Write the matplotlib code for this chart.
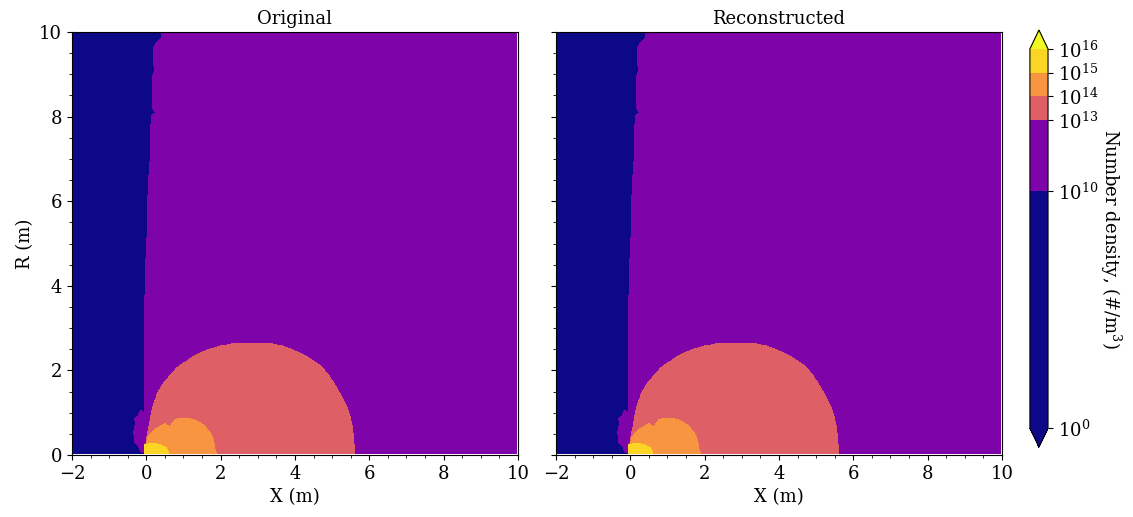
import numpy as np
import matplotlib
matplotlib.use("Agg")
import matplotlib.pyplot as plt
from matplotlib.colors import LogNorm
from matplotlib.path import Path
from matplotlib.ticker import AutoMinorLocator

plt.rcParams['font.family'] = 'serif'
plt.rcParams['font.serif'] = ['DejaVu Serif']
plt.rcParams['mathtext.fontset'] = 'dejavuserif'
plt.rcParams['font.size'] = 13

# contour levels (number density, #/m^3) and the value held inside each region
levels = [1e0, 1e10, 1e13, 1e14, 1e15, 1e16]
vacuum_val = 1e5
plume_val = 10**11.5
shell_val = 10**13.5
core_val = 10**14.5
hot_val = 10**15.5

# region outlines, (x, r) in metres
# blue / purple interface, bottom to top
iface_x = [-0.06, -0.06, -0.05, -0.04, 0.0, 0.01, 0.03, 0.05, 0.08, 0.1, 0.13,
           0.12, 0.15, 0.26, 0.17, 0.19, 0.23, 0.19, 0.2, 0.28, 0.41, 0.45]
iface_r = [-0.1, 0.0, 2.3, 3.47, 4.66, 4.9, 5.37, 6.15, 6.62, 6.95, 7.41,
           7.73, 8.02, 8.1, 8.2, 8.98, 9.1, 9.31, 9.62, 9.74, 9.86, 10.1]

# purple blob inside the blue near the axis
blob_x = [-0.04, -0.12, -0.2, -0.3, -0.34, -0.28, -0.31, -0.22, -0.15, -0.08, -0.04]
blob_r = [0.05, 0.05, 0.2, 0.3, 0.55, 0.72, 0.86, 0.92, 1.05, 1.0, 0.9]

# 1e13-1e14 shell
shell_x = [-0.04, 0.0, 0.05, 0.12, 0.18, 0.3, 0.45, 0.64, 0.85, 1.09, 1.35, 1.62,
           1.98, 2.3, 2.6, 2.9, 3.14, 3.4, 3.68, 3.95, 4.2, 4.45, 4.67, 4.85,
           5.03, 5.18, 5.3, 5.42, 5.5, 5.55, 5.58, 5.61, 5.6, -0.04]
shell_r = [0.0, 0.35, 0.55, 0.9, 1.14, 1.45, 1.68, 1.88, 2.08, 2.22, 2.37, 2.47,
           2.57, 2.62, 2.64, 2.65, 2.65, 2.62, 2.57, 2.48, 2.38, 2.25, 2.12, 1.95,
           1.72, 1.5, 1.3, 1.08, 0.85, 0.6, 0.35, 0.08, -0.1, -0.1]

# 1e14-1e15 core
core_x = [-0.04, 0.05, 0.2, 0.37, 0.5, 0.64, 0.77, 0.92, 1.09, 1.25, 1.4, 1.55,
          1.66, 1.75, 1.8, 1.87, 1.87, -0.04]
core_r = [0.1, 0.43, 0.58, 0.67, 0.74, 0.67, 0.83, 0.87, 0.87, 0.84, 0.79, 0.7,
          0.59, 0.47, 0.35, 0.05, -0.1, -0.1]

# 1e15-1e16 hot spot
hot_x = [-0.04, 0.18, 0.37, 0.55, 0.6, 0.6, -0.04]
hot_r = [0.24, 0.28, 0.24, 0.16, 0.05, -0.1, -0.1]

titles = ["Original", "Reconstructed"]

# grid (cell centres, a touch inside the axis limits)
x = np.linspace(-1.97, 9.97, 1195)
r = np.linspace(0.03, 9.97, 995)
X, R = np.meshgrid(x, r)
pts = np.column_stack([X.ravel(), R.ravel()])


def inside(px, pr):
    return Path(np.column_stack([px, pr])).contains_points(pts).reshape(X.shape)


blue_x = [-2.1] + iface_x + [-2.1]
blue_r = [-0.1] + iface_r + [10.1]

Z = np.full(X.shape, plume_val)
Z[inside(blue_x, blue_r)] = vacuum_val
Z[inside(blob_x, blob_r)] = plume_val
Z[inside(shell_x, shell_r)] = shell_val
Z[inside(core_x, core_r)] = core_val
Z[inside(hot_x, hot_r)] = hot_val

fig = plt.figure(figsize=(11.33, 5.17), dpi=100)
ax1 = fig.add_axes([0.0635, 0.12, 0.3936, 0.818])
ax2 = fig.add_axes([0.4907, 0.12, 0.3936, 0.818])
cax = fig.add_axes([0.909, 0.135, 0.016, 0.807])

norm = LogNorm(vmin=1e10, vmax=1e16)
for ax, t in zip([ax1, ax2], titles):
    cs = ax.contourf(X, R, Z, levels=levels, norm=norm, cmap='plasma', extend='both')
    ax.set_xlim(-2, 10)
    ax.set_ylim(0, 10)
    ax.set_title(t, fontsize=13)
    ax.set_xlabel("X (m)")
    ax.xaxis.set_minor_locator(AutoMinorLocator())
    ax.yaxis.set_minor_locator(AutoMinorLocator())
ax1.set_ylabel("R (m)")
ax2.tick_params(labelleft=False)

cb = fig.colorbar(cs, cax=cax)
cb.set_label("Number density, (#/m$^3$)", rotation=270, labelpad=18)

fig.savefig("out.png", dpi=100)
